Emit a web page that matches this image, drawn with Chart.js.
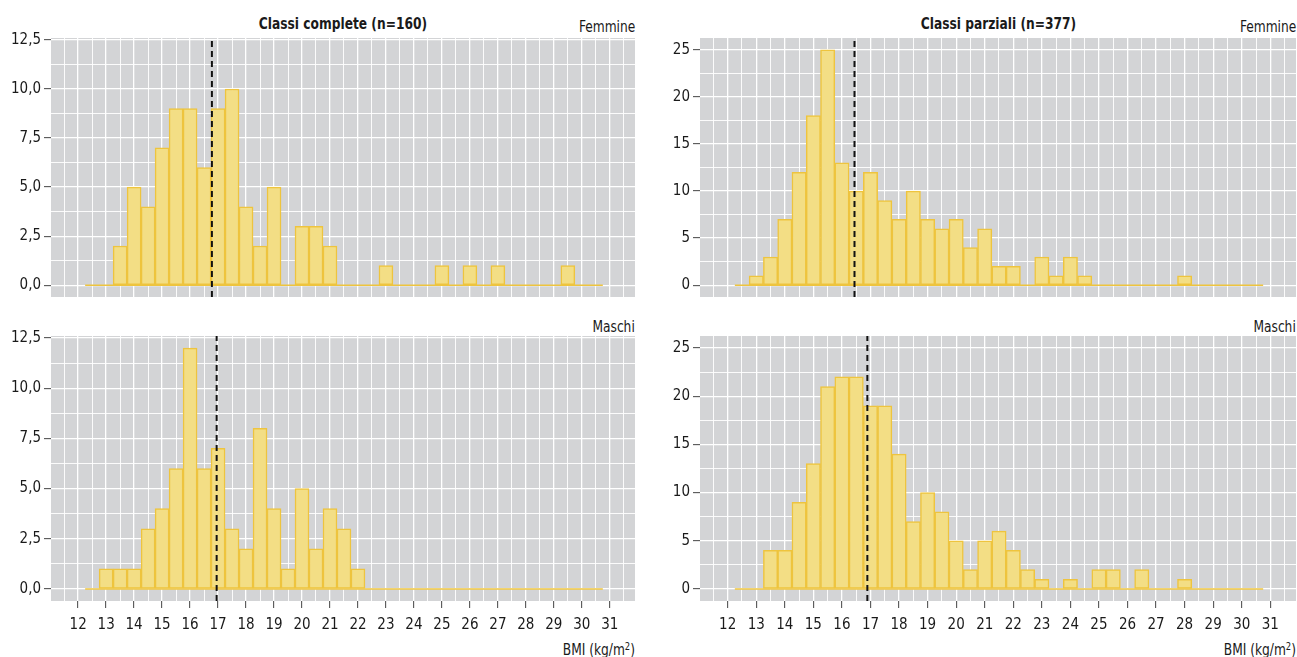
<!DOCTYPE html>
<html>
<head>
<meta charset="utf-8">
<script src="https://cdn.jsdelivr.net/npm/chart.js@4.4.1/dist/chart.umd.min.js"></script>
<style>
    body { margin: 0; background: #fff; width: 1297px; height: 657px; position: relative; overflow: hidden;
           font-family: 'DejaVu Sans Condensed', 'DejaVu Sans', sans-serif; color: #1a1a1a; }
    canvas { position: absolute; }
    .lbl { position: absolute; font-size: 16px; line-height: 16px; white-space: nowrap; }
    .lbl span.t { display: inline-block; transform: scaleX(0.85); }
    .title { font-weight: bold; text-align: center; }
    .title span.t { transform-origin: center; }
    .right { text-align: right; }
    .right span.t { transform-origin: right; }
    .sup { font-size: 11px; position: relative; top: -5px; }
</style>
</head>
<body>

<div class="lbl title" style="left:51px; width:584px; top:16px;"><span class="t">Classi complete (n=160)</span></div>
<div class="lbl title" style="left:700px; width:596px; top:16px;"><span class="t">Classi parziali (n=377)</span></div>
<div class="lbl right" style="left:0; width:635px; top:19px;"><span class="t">Femmine</span></div>
<div class="lbl right" style="left:650px; width:646px; top:19px;"><span class="t">Femmine</span></div>
<div class="lbl right" style="left:0; width:635px; top:319px;"><span class="t">Maschi</span></div>
<div class="lbl right" style="left:650px; width:646px; top:319px;"><span class="t">Maschi</span></div>
<div class="lbl right" style="left:0; width:635px; top:642px;"><span class="t">BMI (kg/m<span class="sup">2</span>)</span></div>
<div class="lbl right" style="left:650px; width:646px; top:642px;"><span class="t">BMI (kg/m<span class="sup">2</span>)</span></div>

<canvas id="cTL" width="640" height="300" style="left:0; top:0;"></canvas>
<canvas id="cBL" width="640" height="347" style="left:0; top:310px;"></canvas>
<canvas id="cTR" width="647" height="300" style="left:650px; top:0;"></canvas>
<canvas id="cBR" width="647" height="347" style="left:650px; top:310px;"></canvas>

<script>
// bin centres (bin width 0.5)
const binCenters = [12.5, 13, 13.5, 14, 14.5, 15, 15.5, 16, 16.5, 17, 17.5, 18, 18.5, 19, 19.5,
    20, 20.5, 21, 21.5, 22, 22.5, 23, 23.5, 24, 24.5, 25, 25.5, 26, 26.5, 27, 27.5,
    28, 28.5, 29, 29.5, 30, 30.5];

// Classi complete
const femCompl    = [0, 0, 2, 5, 4, 7, 9, 9, 6, 9, 10, 4, 2, 5, 0, 3, 3, 2, 0, 0, 0, 1, 0, 0, 0, 1, 0, 1, 0, 1, 0, 0, 0, 0, 1, 0, 0];
const maschiCompl = [0, 1, 1, 1, 3, 4, 6, 12, 6, 7, 3, 2, 8, 4, 1, 5, 2, 4, 3, 1, 0, 0, 0, 0, 0, 0, 0, 0, 0, 0, 0, 0, 0, 0, 0, 0, 0];
// Classi parziali
const femParz     = [0, 1, 3, 7, 12, 18, 25, 13, 10, 12, 9, 7, 10, 7, 6, 7, 4, 6, 2, 2, 0, 3, 1, 3, 1, 0, 0, 0, 0, 0, 0, 1, 0, 0, 0, 0, 0];
const maschiParz  = [0, 0, 4, 4, 9, 13, 21, 22, 22, 19, 19, 14, 7, 10, 8, 5, 2, 5, 6, 4, 2, 1, 0, 1, 0, 2, 2, 0, 2, 0, 0, 1, 0, 0, 0, 0, 0];

// dashed reference lines (mean BMI)
const meanCompl = [16.78, 16.95];   // femmine, maschi
const meanParz  = [16.44, 16.89];

const xTickLabels = [12, 13, 14, 15, 16, 17, 18, 19, 20, 21, 22, 23, 24, 25, 26, 27, 28, 29, 30, 31];
const yTicksCompl = [0, 2.5, 5, 7.5, 10, 12.5];
const yTicksParz  = [0, 5, 10, 15, 20, 25];

const xRange = [11.03, 31.9];
const yRangeCompl = [-0.6, 12.6];
const yRangeParz  = [-1.25, 26.25];

const BAR_FILL = '#F3DE85';
const BAR_LINE = '#EEC43E';
const PANEL_BG = '#D3D4D6';
const TICK_FONT = { family: "'DejaVu Sans Condensed', 'DejaVu Sans', sans-serif", size: 15 };

const panelBg = {
    id: 'panelBg',
    beforeDraw(chart) {
        const { ctx, chartArea: a } = chart;
        ctx.save();
        ctx.fillStyle = PANEL_BG;
        ctx.fillRect(a.left, a.top, a.right - a.left, a.bottom - a.top);
        ctx.restore();
    }
};

// major ticks plus the minor lines half way between them
function withMinor(major) {
    const step = major[1] - major[0];
    const out = [major[0] - step / 2];
    major.forEach(v => { out.push(v); out.push(v + step / 2); });
    return out;
}

function makePanel(id, values, mean, yTicks, yRange, showX, yAxisWidth, fmtY) {
    const half = (binCenters[1] - binCenters[0]) / 2;
    const xGrid = withMinor(xTickLabels).filter(v => v > xRange[0] && v < xRange[1]);
    const yGrid = withMinor(yTicks).filter(v => v > yRange[0] && v < yRange[1]);
    const isMajorX = ctx => !!ctx.tick && xTickLabels.includes(ctx.tick.value);
    const isMajorY = ctx => !!ctx.tick && yTicks.includes(ctx.tick.value);

    new Chart(document.getElementById(id), {
        type: 'bar',
        data: {
            datasets: [
                {
                    type: 'line',
                    data: [{ x: mean, y: yRange[0] }, { x: mean, y: yRange[1] }],
                    borderColor: '#111',
                    borderWidth: 2,
                    borderDash: [6, 4],
                    pointRadius: 0,
                    order: 0
                },
                {
                    type: 'line',
                    data: [{ x: binCenters[0] - half, y: 0 }, { x: binCenters[binCenters.length - 1] + half, y: 0 }],
                    borderColor: BAR_LINE,
                    borderWidth: 1.5,
                    pointRadius: 0,
                    order: 1
                },
                {
                    data: binCenters.map((c, i) => ({ x: c, y: values[i] })),
                    backgroundColor: BAR_FILL,
                    borderColor: BAR_LINE,
                    borderWidth: 1.5,
                    borderSkipped: false,
                    barPercentage: 1,
                    categoryPercentage: 1,
                    order: 2
                }
            ]
        },
        options: {
            responsive: false,
            animation: false,
            events: [],
            layout: { padding: { top: showX ? 26 : 38, right: id.endsWith('R') ? 1 : 5, bottom: showX ? 0 : 3, left: 0 } },
            plugins: { legend: { display: false }, tooltip: { enabled: false } },
            scales: {
                x: {
                    type: 'linear',
                    offset: false,
                    min: xRange[0],
                    max: xRange[1],
                    border: { display: false },
                    afterBuildTicks: s => { s.ticks = xGrid.map(v => ({ value: v })); },
                    afterFit: s => { s.height = showX ? 56 : 0; s.paddingLeft = 0; s.paddingRight = 0; },
                    grid: {
                        offset: false,
                        color: '#fff',
                        lineWidth: ctx => isMajorX(ctx) ? 1.3 : 0.9,
                        drawTicks: showX,
                        tickLength: 7,
                        tickWidth: 1,
                        tickColor: ctx => isMajorX(ctx) ? '#444' : 'rgba(0,0,0,0)'
                    },
                    ticks: {
                        display: showX,
                        autoSkip: false,
                        maxRotation: 0,
                        padding: 8,
                        color: '#1a1a1a',
                        font: TICK_FONT,
                        callback: v => xTickLabels.includes(v) ? String(v) : ''
                    }
                },
                y: {
                    min: yRange[0],
                    max: yRange[1],
                    border: { display: false },
                    afterBuildTicks: s => { s.ticks = yGrid.map(v => ({ value: v })); },
                    afterFit: s => { s.width = yAxisWidth; s.paddingTop = 0; s.paddingBottom = 0; },
                    grid: {
                        color: '#fff',
                        lineWidth: ctx => isMajorY(ctx) ? 1.3 : 0.9,
                        tickLength: 7,
                        tickWidth: 1,
                        tickColor: ctx => isMajorY(ctx) ? '#444' : 'rgba(0,0,0,0)'
                    },
                    ticks: {
                        autoSkip: false,
                        padding: 3,
                        color: '#1a1a1a',
                        font: TICK_FONT,
                        callback: v => yTicks.includes(v) ? fmtY(v) : ''
                    }
                }
            }
        },
        plugins: [panelBg]
    });
}

const fmtCompl = v => v.toFixed(1).replace('.', ',');
const fmtParz = v => String(v);

makePanel('cTL', femCompl, meanCompl[0], yTicksCompl, yRangeCompl, false, 51, fmtCompl);
makePanel('cBL', maschiCompl, meanCompl[1], yTicksCompl, yRangeCompl, true, 51, fmtCompl);
makePanel('cTR', femParz, meanParz[0], yTicksParz, yRangeParz, false, 50, fmtParz);
makePanel('cBR', maschiParz, meanParz[1], yTicksParz, yRangeParz, true, 50, fmtParz);
</script>
</body>
</html>
